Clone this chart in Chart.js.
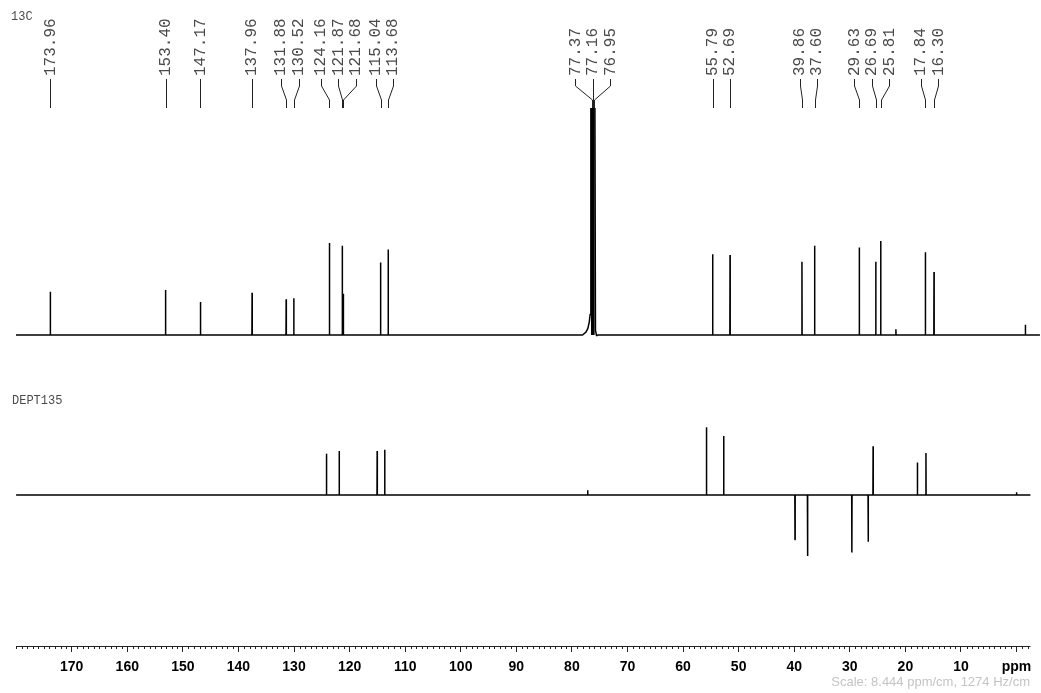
<!DOCTYPE html>
<html>
<head>
<meta charset="utf-8">
<script src="https://cdn.jsdelivr.net/npm/chart.js@4.4.0/dist/chart.umd.min.js"></script>
<style>
  html, body { margin: 0; padding: 0; background: #fff; }
  canvas { display: block; }
</style>
</head>
<body>
<canvas id="nmr" width="1041" height="693"></canvas>
<script>
// peak list printed above the 13C trace (ppm)
const peakLabels = [173.96, 153.40, 147.17, 137.96, 131.88, 130.52, 124.16, 121.87, 121.68,
  115.04, 113.68, 77.37, 77.16, 76.95, 55.79, 52.69, 39.86, 37.60, 29.63, 26.69, 25.81, 17.84, 16.30];

// 13C trace: peak positions and heights (% of the tallest sample peak)
const c13Ppm = [173.96, 153.40, 147.17, 137.96, 131.88, 130.52, 124.16, 121.87, 121.68, 115.04, 113.68,
  55.79, 52.69, 39.86, 37.60, 29.63, 26.69, 25.81, 23.10, 17.84, 16.30, 0.00];
const c13Int = [46, 48, 35, 45, 38, 39, 98, 95, 44, 77, 91,
  86, 85, 78, 95, 93, 78, 100, 6, 88, 67, 11];

// CDCl3 triplet with its broad foot, goes off the top of the plot
const solventPpm = [79.0, 78.4, 78.05, 77.8, 77.65, 77.52, 77.37, 77.26, 77.16, 77.05, 76.95, 76.82, 76.7, 76.5, 76.3];
const solventInt = [0, 3, 7, 14, 22, 900, 2000, 1200, 2000, 1200, 2000, 300, 5, -1, 0];

// DEPT-135: CH / CH3 up, CH2 down (% of the 55.79 peak)
const deptPpm = [124.16, 121.87, 115.04, 113.68, 77.16, 55.79, 52.69, 39.86, 37.60, 29.63, 26.69, 25.81, 17.84, 16.30, 0.00];
const deptInt = [61, 65, 65, 67, 7, 100, 87, -66, -90, -85, -69, 72, 48, 62, 4];

// spectral windows (ppm, left to right)
const c13Window = [180.1, -2.6];
const deptWindow = [180.0, -2.5];

// ppm axis
const axisTicks = [170, 160, 150, 140, 130, 120, 110, 100, 90, 80, 70, 60, 50, 40, 30, 20, 10];
const axisUnit = 'ppm';
const scaleNote = 'Scale: 8.444 ppm/cm, 1274 Hz/cm';

// turn a stick list into a line trace
const buildTrace = (win, ppm, ints, extraPpm, extraInt) => {
  const pts = [{ x: win[0], y: 0 }, { x: win[1], y: 0 }];
  ppm.forEach((p, i) => {
    pts.push({ x: p + 0.03, y: 0 }, { x: p, y: ints[i] }, { x: p - 0.03, y: 0 });
  });
  (extraPpm || []).forEach((p, i) => pts.push({ x: p, y: extraInt[i] }));
  pts.sort((a, b) => b.x - a.x);
  return pts;
};

// the saturated middle of the solvent signal, drawn as a solid block
const solventCore = solventPpm
  .map((p, i) => ({ x: p, y: solventInt[i] }))
  .filter((d) => d.y > 200);

// push overlapping labels apart, keeping each group centred on its peaks
const spreadLabels = (targets, gap) => {
  const clusters = [];
  targets.forEach((t) => {
    let c = { ts: [t], start: t };
    while (clusters.length) {
      const prev = clusters[clusters.length - 1];
      const prevEnd = prev.start + (prev.ts.length - 1) * gap;
      if (c.start - prevEnd >= gap) break;
      clusters.pop();
      const ts = prev.ts.concat(c.ts);
      const mean = ts.reduce((a, b) => a + b, 0) / ts.length;
      c = { ts, start: mean - (ts.length - 1) * gap / 2 };
    }
    clusters.push(c);
  });
  const out = [];
  clusters.forEach((c) => c.ts.forEach((t, i) => out.push(c.start + i * gap)));
  return out;
};

const decor = {
  id: 'nmrDecor',
  afterDraw(chart) {
    const ctx = chart.ctx;
    const xs = chart.scales.x;
    const x13 = chart.scales.x13;
    const bottom = chart.chartArea.bottom;
    const top = chart.chartArea.top;
    ctx.save();

    // axis line + minor ticks
    ctx.strokeStyle = '#222';
    ctx.lineWidth = 1;
    ctx.beginPath();
    ctx.moveTo(xs.getPixelForValue(deptWindow[0]), bottom + 0.5);
    ctx.lineTo(xs.getPixelForValue(deptWindow[1]), bottom + 0.5);
    for (let v = 180; v >= -2; v--) {
      if (v % 10 === 0 && v <= 170 && v >= 0) continue;
      const px = Math.round(xs.getPixelForValue(v)) + 0.5;
      ctx.moveTo(px, bottom);
      ctx.lineTo(px, bottom + 3);
    }
    ctx.stroke();

    // peak labels with connectors
    const targets = peakLabels.map((p) => x13.getPixelForValue(p));
    const pos = spreadLabels(targets, 17.5);
    ctx.beginPath();
    targets.forEach((t, i) => {
      const lx = Math.round(pos[i]) + 0.5;
      const px = Math.round(t) + 0.5;
      ctx.moveTo(lx, 79);
      ctx.lineTo(lx, 86);
      ctx.lineTo(px, 100);
      ctx.lineTo(px, top);
    });
    ctx.stroke();

    ctx.fillStyle = '#4a4a4a';
    ctx.font = '16px "Liberation Mono", "Courier New", monospace';
    ctx.textAlign = 'left';
    ctx.textBaseline = 'middle';
    peakLabels.forEach((p, i) => {
      ctx.save();
      ctx.translate(pos[i], 76);
      ctx.rotate(-Math.PI / 2);
      ctx.fillText(p.toFixed(2), 0, 0);
      ctx.restore();
    });

    // trace titles
    ctx.font = '12px "Liberation Mono", "Courier New", monospace';
    ctx.fillText('13C', 11, 17);
    ctx.fillText('DEPT135', 12, 401);

    // scale note
    ctx.fillStyle = '#c4c4c4';
    ctx.font = '13px "Liberation Sans", Arial, sans-serif';
    ctx.textAlign = 'right';
    ctx.fillText(scaleNote, 1030, 682);
    ctx.restore();
  }
};

const lineStyle = {
  borderColor: '#000',
  borderWidth: 1.5,
  pointRadius: 0,
  tension: 0,
  fill: false,
  borderJoinStyle: 'bevel'
};

new Chart(document.getElementById('nmr'), {
  type: 'line',
  data: {
    datasets: [
      Object.assign({
        label: '13C',
        data: buildTrace(c13Window, c13Ppm, c13Int, solventPpm, solventInt),
        xAxisID: 'x13',
        yAxisID: 'y13'
      }, lineStyle),
      Object.assign({}, lineStyle, {
        label: 'CDCl3',
        data: solventCore,
        xAxisID: 'x13',
        yAxisID: 'y13',
        fill: 'origin',
        backgroundColor: '#000'
      }),
      Object.assign({
        label: 'DEPT135',
        data: buildTrace(deptWindow, deptPpm, deptInt),
        xAxisID: 'x',
        yAxisID: 'yDept'
      }, lineStyle)
    ]
  },
  options: {
    responsive: false,
    animation: false,
    events: [],
    layout: { padding: { top: 108, left: 16, right: 1, bottom: 0 } },
    plugins: { legend: { display: false }, tooltip: { enabled: false } },
    scales: {
      x: {
        type: 'linear',
        position: 'bottom',
        reverse: true,
        min: -4.22,
        max: 180.02,
        afterBuildTicks: (s) => { s.ticks = axisTicks.concat([0]).map((v) => ({ value: v })); },
        afterFit: (s) => { s.height = 47; },
        ticks: {
          autoSkip: false,
          maxRotation: 0,
          padding: 7,
          color: '#000',
          font: { family: '"Liberation Sans", Arial, sans-serif', size: 14, weight: 'bold' },
          callback: (v) => (v === 0 ? axisUnit : String(v))
        },
        grid: { display: true, drawOnChartArea: false, drawTicks: true, tickLength: 6, tickColor: '#222', tickWidth: 1 },
        border: { display: false }
      },
      x13: { type: 'linear', display: false, reverse: true, min: -2.61, max: 180.08 },
      y13: { type: 'linear', display: false, min: -311 / 0.94, max: 227 / 0.94 },
      yDept: { type: 'linear', display: false, min: -151 / 0.677, max: 387 / 0.677 }
    }
  },
  plugins: [decor]
});
</script>
</body>
</html>
